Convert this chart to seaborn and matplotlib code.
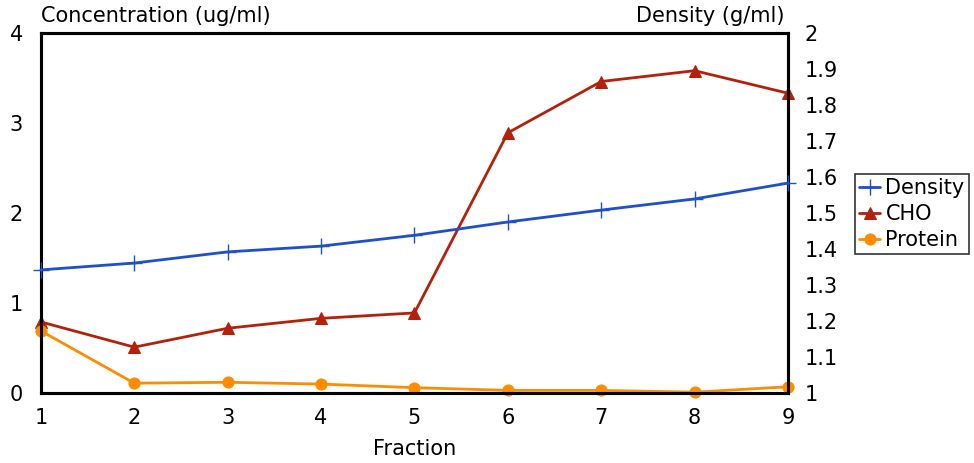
import pandas as pd
import matplotlib.pyplot as plt
import seaborn as sns

fraction = [1, 2, 3, 4, 5, 6, 7, 8, 9]
density = [1.342, 1.361, 1.392, 1.408, 1.438, 1.475, 1.508, 1.539, 1.583]
cho = [0.79, 0.51, 0.72, 0.83, 0.89, 2.89, 3.46, 3.58, 3.33]
protein = [0.69, 0.11, 0.12, 0.10, 0.06, 0.03, 0.03, 0.01, 0.07]

left_ticks = [0, 1, 2, 3, 4]
right_ticks = [1, 1.1, 1.2, 1.3, 1.4, 1.5, 1.6, 1.7, 1.8, 1.9, 2]
right_labels = ['1', '1.1', '1.2', '1.3', '1.4', '1.5', '1.6', '1.7', '1.8', '1.9', '2']

df = pd.DataFrame({'Fraction': fraction, 'Density': density, 'CHO': cho, 'Protein': protein})

sns.set_style('white')
plt.rcParams['font.family'] = ['DejaVu Sans']
plt.rcParams.update({'text.color': 'black', 'xtick.color': 'black',
                     'ytick.color': 'black', 'axes.labelcolor': 'black'})
fs = 15

blue = '#1f4fcf'
red = '#b5200a'
orange = '#ff8c00'

fig = plt.figure(figsize=(9.74, 4.63), dpi=100)
ax = fig.add_axes([0.042, 0.151, 0.767, 0.778])
ax2 = ax.twinx()

sns.lineplot(data=df, x='Fraction', y='CHO', ax=ax, color=red, marker='^', markersize=9,
             markeredgecolor=red, linewidth=2.0, label='CHO', clip_on=False, zorder=3)
sns.lineplot(data=df, x='Fraction', y='Protein', ax=ax, color=orange, marker='o', markersize=8,
             markeredgecolor=orange, linewidth=2.0, label='Protein', clip_on=False, zorder=3)
sns.lineplot(data=df, x='Fraction', y='Density', ax=ax2, color=blue, marker='+', markersize=11,
             markeredgecolor=blue, markeredgewidth=1.0, linewidth=2.0, label='Density',
             clip_on=False, zorder=3)

ax.set_xlim(1, 9)
ax.set_ylim(0, 4)
ax2.set_ylim(1, 2)
ax.set_xticks(fraction)
ax.set_yticks(left_ticks)
ax2.set_yticks(right_ticks)
ax2.set_yticklabels(right_labels)

ax.tick_params(axis='both', length=0, labelsize=fs, labelcolor='black')
ax.tick_params(axis='x', pad=11)
ax.tick_params(axis='y', pad=13)
ax2.tick_params(axis='y', length=0, labelsize=fs, pad=12, labelcolor='black')

for a in (ax, ax2):
    for s in a.spines.values():
        s.set_color('black')
        s.set_linewidth(2.2)
        s.set_visible(True)

ax.set_xlabel('Fraction', fontsize=fs, labelpad=8, color='black')
ax.set_ylabel('')
ax2.set_ylabel('')
ax.text(0.0, 1.02, 'Concentration (ug/ml)', transform=ax.transAxes, ha='left', va='bottom',
        fontsize=fs, color='black')
ax2.text(0.995, 1.02, 'Density (g/ml)', transform=ax2.transAxes, ha='right', va='bottom',
         fontsize=fs, color='black')

h1, l1 = ax.get_legend_handles_labels()
h2, l2 = ax2.get_legend_handles_labels()
ax.get_legend().remove()
ax2.get_legend().remove()
leg = ax2.legend(h2 + h1, l2 + l1, loc='center left', bbox_to_anchor=(1.09, 0.497), fontsize=fs,
                 frameon=True, fancybox=False, edgecolor='black', handlelength=1.0,
                 handletextpad=0.25, borderpad=0.2, labelspacing=0.3, borderaxespad=0,
                 labelcolor='black')
leg.get_frame().set_linewidth(1.2)

fig.savefig('out.png', dpi=100)
